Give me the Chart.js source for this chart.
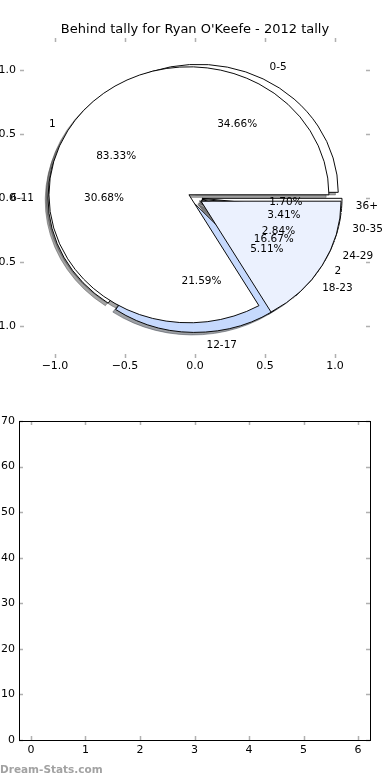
<!DOCTYPE html>
<html>
<head>
<meta charset="utf-8">
<script src="https://cdn.jsdelivr.net/npm/chart.js@4.4.1/dist/chart.umd.min.js"></script>
<style>
  html, body { margin: 0; padding: 0; background: #fff; }
  body { width: 390px; height: 780px; position: relative; overflow: hidden; }
  canvas { position: absolute; left: 0; }
  #axes, #pieB, #pieA { top: 0; }
  #axes { z-index: 1; }
  #pieB { z-index: 2; }
  #pieA { z-index: 3; }
  #hist { top: 400px; }
  #mark { position: absolute; left: 0; top: 763px; font: bold 10.5px "DejaVu Sans"; color: #a2a2a2; }
</style>
</head>
<body>
<canvas id="axes" width="390" height="400"></canvas>
<canvas id="pieB" width="390" height="400"></canvas>
<canvas id="pieA" width="390" height="400"></canvas>
<canvas id="hist" width="390" height="380"></canvas>
<div id="mark">Dream-Stats.com</div>
<script>
// data
const title = "Behind tally for Ryan O'Keefe - 2012 tally";
const groupLabels = ['0-5', '6-11', '12-17', '18-23', '24-29', '30-35', '36+'];
const groupCounts = [61, 54, 38, 9, 5, 6, 3];
const groupColors = ['#ffffff', '#ffffff', '#c6d9fd', '#ffffff', '#ffffff', '#ffffff', '#ffffff'];
const splitLabels = ['1', '2'];
const splitCounts = [5, 1];
const splitColors = ['#ffffff', '#ebf1fe'];
const pieTicks = [-1.0, -0.5, 0.0, 0.5, 1.0];
const histXTicks = [0, 1, 2, 3, 4, 5, 6];
const histYTicks = [0, 10, 20, 30, 40, 50, 60, 70];

const FONT = 'DejaVu Sans';
Chart.defaults.font.family = FONT;
Chart.defaults.font.size = 11;
Chart.defaults.color = '#000';

// pie drawn as an ellipse like the stretched matplotlib axes
const RX = 140;
const SY = 128 / 140;
const EXPLODE = 0.05;
const LABEL_DIST = 1.1;
const PCT_DIST = 0.6;

let pieA = null;
let pieB = null;

function fmtTick(v) {
  return (v < 0 ? '\u2212' : '') + Math.abs(v).toFixed(1);
}

// small grey ticks pointing inwards on every side
const inwardTicks = {
  id: 'inwardTicks',
  afterDraw(chart, args, opts) {
    const {ctx, chartArea: a, scales: {x, y}} = chart;
    ctx.save();
    ctx.strokeStyle = '#b0b0b0';
    ctx.lineWidth = 1.5;
    ctx.beginPath();
    x.ticks.forEach(t => {
      const px = Math.round(x.getPixelForValue(t.value)) + 0.5;
      ctx.moveTo(px, a.top); ctx.lineTo(px, a.top + 4);
      ctx.moveTo(px, a.bottom); ctx.lineTo(px, a.bottom - 4);
    });
    y.ticks.forEach(t => {
      const py = Math.round(y.getPixelForValue(t.value)) + 0.5;
      ctx.moveTo(a.left, py); ctx.lineTo(a.left + 4, py);
      ctx.moveTo(a.right, py); ctx.lineTo(a.right - 4, py);
    });
    ctx.stroke();
    if (opts.frame) {
      ctx.strokeStyle = '#000';
      ctx.lineWidth = 1;
      ctx.strokeRect(Math.round(a.left) + 0.5, Math.round(a.top) + 0.5,
        Math.round(a.right - a.left), Math.round(a.bottom - a.top));
    }
    ctx.restore();
  }
};

function shadowColor(hex) {
  const n = parseInt(hex.slice(1), 16);
  const r = Math.round(((n >> 16) & 255) * 0.3);
  const g = Math.round(((n >> 8) & 255) * 0.3);
  const b = Math.round((n & 255) * 0.3);
  return `rgba(${r},${g},${b},0.5)`;
}

function drawShadows(ctx, chart) {
  const arcs = chart.getDatasetMeta(0).data;
  const colors = chart.data.datasets[0].backgroundColor;
  arcs.forEach((arc, i) => {
    const mid = (arc.startAngle + arc.endAngle) / 2;
    const r = arc.outerRadius;
    ctx.save();
    ctx.translate(Math.cos(mid) * r * EXPLODE - 0.02 * r, Math.sin(mid) * r * EXPLODE + 0.02 * r);
    ctx.fillStyle = shadowColor(colors[i]);
    ctx.strokeStyle = ctx.fillStyle;
    ctx.lineWidth = 1;
    ctx.beginPath();
    ctx.moveTo(arc.x, arc.y);
    ctx.arc(arc.x, arc.y, r, arc.startAngle, arc.endAngle);
    ctx.closePath();
    ctx.fill();
    ctx.stroke();
    ctx.restore();
  });
}

// draw the library's arcs exploded and squashed to an ellipse
const explodeDraw = {
  id: 'explodeDraw',
  beforeDatasetsDraw(chart, args, opts) {
    const ctx = chart.ctx;
    const arcs = chart.getDatasetMeta(0).data;
    const cx = arcs[0].x, cy = arcs[0].y;
    ctx.save();
    ctx.translate(cx, cy);
    ctx.scale(1, SY);
    ctx.translate(-cx, -cy);
    if (opts.shadows) {
      // all shadows sit under every wedge
      [pieA, chart].forEach(c => { if (c) drawShadows(ctx, c); });
    }
    arcs.forEach(arc => {
      const mid = (arc.startAngle + arc.endAngle) / 2;
      ctx.save();
      ctx.translate(Math.cos(mid) * arc.outerRadius * EXPLODE, Math.sin(mid) * arc.outerRadius * EXPLODE);
      arc.draw(ctx);
      ctx.restore();
    });
    ctx.restore();
    return false;
  }
};

function drawPieLabels(ctx, chart) {
  const arcs = chart.getDatasetMeta(0).data;
  const counts = chart.data.datasets[0].data;
  const total = counts.reduce((a, b) => a + b, 0);
  arcs.forEach((arc, i) => {
    const mid = (arc.startAngle + arc.endAngle) / 2;
    const c = Math.cos(mid), s = Math.sin(mid);
    const r = arc.outerRadius;
    const lx = arc.x + c * r * (EXPLODE + LABEL_DIST);
    const ly = arc.y + s * r * (EXPLODE + LABEL_DIST) * SY;
    ctx.textAlign = c > 0 ? 'left' : 'right';
    ctx.fillText(chart.data.labels[i], lx, ly);
    const px = arc.x + c * r * (EXPLODE + PCT_DIST);
    const py = arc.y + s * r * (EXPLODE + PCT_DIST) * SY;
    ctx.textAlign = 'center';
    ctx.fillText((counts[i] / total * 100).toFixed(2) + '%', px, py);
  });
}

// texts go on the top canvas, above both pies
const pieLabels = {
  id: 'pieLabels',
  afterDraw(chart) {
    const ctx = chart.ctx;
    ctx.save();
    ctx.fillStyle = '#000';
    ctx.font = `10.5px "${FONT}"`;
    ctx.textBaseline = 'middle';
    if (pieB) drawPieLabels(ctx, pieB);
    drawPieLabels(ctx, chart);
    ctx.restore();
  }
};

function pieConfig(labels, counts, colors, shadows, extra) {
  // matplotlib runs counter-clockwise from 3 o'clock, so reverse for Chart.js
  return {
    type: 'pie',
    data: {
      labels: labels.slice().reverse(),
      datasets: [{
        data: counts.slice().reverse(),
        backgroundColor: colors.slice().reverse(),
        borderColor: '#000',
        borderWidth: 1
      }]
    },
    options: {
      responsive: false,
      animation: false,
      events: [],
      radius: RX,
      rotation: 90,
      layout: { padding: { bottom: 4 } },
      plugins: {
        legend: { display: false },
        tooltip: { enabled: false },
        explodeDraw: { shadows: shadows }
      }
    },
    plugins: [explodeDraw].concat(extra)
  };
}

// blank right-hand axis that only reserves space
const spacer = {
  position: 'right',
  grid: { display: false, drawTicks: false },
  border: { display: false },
  ticks: { display: false },
  afterFit: s => { s.width = 20; }
};

// axes behind the pie
new Chart(document.getElementById('axes'), {
  type: 'scatter',
  data: { datasets: [{ data: [] }] },
  options: {
    responsive: false,
    animation: false,
    events: [],
    plugins: {
      legend: { display: false },
      tooltip: { enabled: false },
      title: {
        display: true,
        text: title,
        color: '#000',
        font: { family: FONT, size: 13, weight: 'normal' },
        padding: { top: 22.3, bottom: 0 }
      },
      inwardTicks: { frame: false }
    },
    scales: {
      x: {
        type: 'linear', min: -1.25, max: 1.25,
        grid: { display: false, drawTicks: false },
        border: { display: false },
        ticks: { padding: 2, callback: fmtTick },
        afterBuildTicks: s => { s.ticks = pieTicks.map(v => ({ value: v })); },
        afterFit: s => { s.height = 42; }
      },
      y: {
        type: 'linear', min: -1.25, max: 1.25,
        grid: { display: false, drawTicks: false },
        border: { display: false },
        ticks: { padding: 4, callback: fmtTick },
        afterBuildTicks: s => { s.ticks = pieTicks.map(v => ({ value: v })); },
        afterFit: s => { s.width = 20; }
      },
      y2: spacer
    }
  },
  plugins: [inwardTicks]
});

pieA = new Chart(document.getElementById('pieA'), pieConfig(splitLabels, splitCounts, splitColors, false, [pieLabels]));
pieB = new Chart(document.getElementById('pieB'), pieConfig(groupLabels, groupCounts, groupColors, true, []));
pieA.draw();

// empty axes underneath
new Chart(document.getElementById('hist'), {
  type: 'scatter',
  data: { datasets: [{ data: [] }] },
  options: {
    responsive: false,
    animation: false,
    events: [],
    layout: { padding: { top: 21 } },
    plugins: {
      legend: { display: false },
      tooltip: { enabled: false },
      inwardTicks: { frame: true }
    },
    scales: {
      x: {
        type: 'linear', min: -0.22, max: 6.22,
        grid: { display: false, drawTicks: false },
        border: { display: false },
        ticks: { padding: 4, callback: v => String(v) },
        afterBuildTicks: s => { s.ticks = histXTicks.map(v => ({ value: v })); },
        afterFit: s => { s.height = 40; }
      },
      y: {
        type: 'linear', min: 0, max: 70,
        grid: { display: false, drawTicks: false },
        border: { display: false },
        ticks: { padding: 4, callback: v => String(v) },
        afterBuildTicks: s => { s.ticks = histYTicks.map(v => ({ value: v })); },
        afterFit: s => { s.width = 19; }
      },
      y2: spacer
    }
  },
  plugins: [inwardTicks]
});
</script>
</body>
</html>
